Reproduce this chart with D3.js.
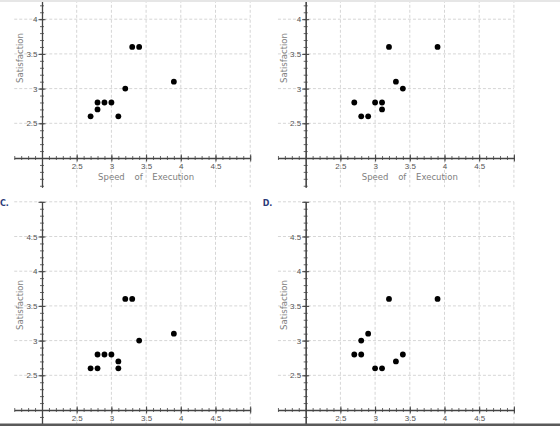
<!DOCTYPE html>
<html>
<head>
<meta charset="utf-8">
<script src="https://cdn.jsdelivr.net/npm/d3@7.9.0/dist/d3.min.js"></script>
<style>
  body { margin: 0; background: #fff; }
  svg { display: block; font-family: 'DejaVu Sans', sans-serif; }
  .grid line { stroke: #d6d6d6; stroke-dasharray: 3 2; }
  .axis path, .axis line { stroke: #444; }
  .axis text { fill: #555; font-size: 8px; }
  .title { fill: #808080; font-size: 8.5px; }
</style>
</head>
<body>
<svg id="chart" width="560" height="426"></svg>
<script>
// speed of execution (x) and satisfaction (y) for the four candidate plots
const speedA = [2.7, 2.8, 2.8, 2.9, 3.0, 3.1, 3.2, 3.3, 3.4, 3.9];
const satisfactionA = [2.6, 2.7, 2.8, 2.8, 2.8, 2.6, 3.0, 3.6, 3.6, 3.1];

const speedB = [2.7, 2.8, 2.9, 3.0, 3.1, 3.1, 3.2, 3.3, 3.4, 3.9];
const satisfactionB = [2.8, 2.6, 2.6, 2.8, 2.8, 2.7, 3.6, 3.1, 3.0, 3.6];

const speedC = [2.7, 2.8, 2.8, 2.9, 3.0, 3.1, 3.1, 3.2, 3.3, 3.4, 3.9];
const satisfactionC = [2.6, 2.6, 2.8, 2.8, 2.8, 2.7, 2.6, 3.6, 3.6, 3.0, 3.1];

const speedD = [2.7, 2.8, 2.8, 2.9, 3.0, 3.1, 3.2, 3.3, 3.4, 3.9];
const satisfactionD = [2.8, 2.8, 3.0, 3.1, 2.6, 2.6, 3.6, 2.7, 2.8, 3.6];

const xTickLabels = [2.5, 3, 3.5, 4, 4.5];
const yTickLabels = [2.5, 3, 3.5, 4, 4.5];
const gridValues = [2.5, 3, 3.5, 4, 4.5, 5];
const panelNames = ['', '', 'C.', 'D.'];

const xTitle = 'Speed of Execution';
const yTitle = 'Satisfaction';

const k = 69.4; // px per unit
const panels = [
  { ox: 42, oy: 158, speed: speedA, sat: satisfactionA, xTitle: true },
  { ox: 305.7, oy: 158, speed: speedB, sat: satisfactionB, xTitle: true },
  { ox: 42, oy: 410, speed: speedC, sat: satisfactionC, xTitle: false },
  { ox: 305.7, oy: 410, speed: speedD, sat: satisfactionD, xTitle: false }
];

const svg = d3.select('#chart');

panels.forEach((p, i) => {
  const x = d3.scaleLinear().domain([1.6, 5]).range([p.ox - 0.4 * k, p.ox + 3 * k]);
  const y = d3.scaleLinear().domain([1.58, 5]).range([p.oy + 0.42 * k, p.oy - 3 * k]);
  const g = svg.append('g');

  // dashed grid
  const grid = g.append('g').attr('class', 'grid');
  grid.selectAll('.gx').data(gridValues).join('line')
    .attr('x1', d => x(d)).attr('x2', d => x(d))
    .attr('y1', y(5)).attr('y2', y(1.58));
  grid.selectAll('.gy').data(gridValues).join('line')
    .attr('class', 'gy')
    .attr('x1', x(1.6)).attr('x2', x(5))
    .attr('y1', d => y(d)).attr('y2', d => y(d));

  const minor = d3.range(16, 51).map(d => d / 10);

  // x axis through y = 2
  const gx = g.append('g').attr('class', 'axis').attr('transform', `translate(0,${y(2)})`);
  gx.call(d3.axisBottom(x).tickValues(minor).tickFormat('').tickSizeInner(2).tickSizeOuter(0))
    .selectAll('.tick line').attr('y1', -2).attr('stroke-width', 0.8);
  const gxMaj = g.append('g').attr('class', 'axis').attr('transform', `translate(0,${y(2)})`);
  gxMaj.call(d3.axisBottom(x).tickValues(gridValues).tickSizeInner(3.5).tickSizeOuter(0).tickPadding(1.5)
      .tickFormat(d => xTickLabels.includes(d) ? d3.format('')(d) : ''));
  gxMaj.select('.domain').attr('stroke-width', 1.3);
  gxMaj.selectAll('.tick line').attr('y1', -3.5);
  gxMaj.selectAll('.tick text').attr('dy', '0.72em');

  // y axis through x = 2 (labels only where they fall inside the picture)
  const gy = g.append('g').attr('class', 'axis').attr('transform', `translate(${x(2)},0)`);
  gy.call(d3.axisLeft(y).tickValues(minor).tickFormat('').tickSizeInner(2).tickSizeOuter(0))
    .selectAll('.tick line').attr('x1', 2).attr('stroke-width', 0.8);
  const gyMaj = g.append('g').attr('class', 'axis').attr('transform', `translate(${x(2)},0)`);
  gyMaj.call(d3.axisLeft(y).tickValues(gridValues.filter(d => y(d) > 5)).tickSizeInner(3.5).tickSizeOuter(0).tickPadding(1)
      .tickFormat(d => yTickLabels.includes(d) ? d3.format('')(d) : ''));
  gyMaj.select('.domain').attr('stroke-width', 1.3);
  gyMaj.selectAll('.tick line').attr('x1', 3.5);

  // titles
  g.append('text').attr('class', 'title')
    .attr('transform', `translate(${p.ox - 19},${i < 2 ? 58 : 305}) rotate(-90)`)
    .attr('text-anchor', 'middle')
    .text(yTitle);
  if (p.xTitle) {
    g.append('text').attr('class', 'title')
      .attr('x', x(3.5)).attr('y', y(2) + 22)
      .attr('text-anchor', 'middle')
      .style('word-spacing', '7px')
      .text(xTitle);
  }
  if (panelNames[i]) {
    g.append('text')
      .attr('x', i === 2 ? 0 : p.ox - 43).attr('y', y(5) + 4)
      .attr('fill', '#2b3a78').attr('font-size', '8px').attr('font-weight', 'bold')
      .text(panelNames[i]);
  }

  // points
  g.selectAll('circle').data(p.speed.map((s, j) => [s, p.sat[j]])).join('circle')
    .attr('cx', d => x(d[0])).attr('cy', d => y(d[1]))
    .attr('r', 2.9).attr('fill', '#000');
});

// frame lines from the screenshot
svg.append('rect').attr('x', 0).attr('y', 0).attr('width', 560).attr('height', 2).attr('fill', '#e6e6e6');
svg.append('rect').attr('x', 0).attr('y', 423.5).attr('width', 560).attr('height', 2.5).attr('fill', '#5a5a5a');
</script>
</body>
</html>
